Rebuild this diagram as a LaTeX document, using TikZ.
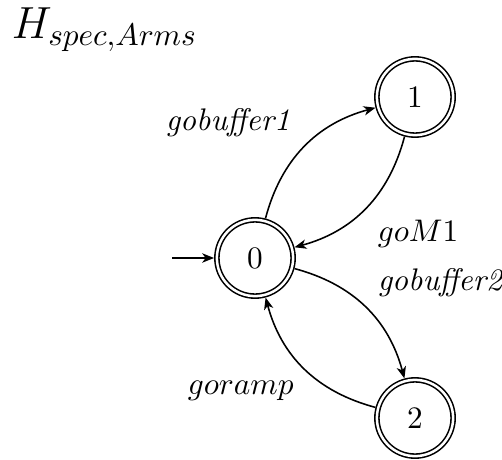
\documentclass[tikz,border=0pt]{standalone}
\usetikzlibrary{arrows.meta}
\begin{document}
\begin{tikzpicture}[x=0.32pt,y=-0.32pt,
  line width=0.5pt,
  state/.style={circle,draw,double,double distance=0.8pt,minimum size=24.4pt,
    inner sep=0pt,outer sep=0.9pt},
  trans/.style={-{Stealth[length=3.8pt,width=3pt,inset=1.1pt]}},
  lbl/.style={anchor=base west,inner sep=0pt}]
\useasboundingbox (0,0) rectangle (502,460);

% title
\node[lbl] (title) at (11,39) {\Large $H_{spec,Arms}$};

% states
\node[state] (s0) at (255,258) {0};
\node[state] (s1) at (415,97) {1};
\node[state] (s2) at (415,418) {2};

% initial arrow
\coordinate (init) at (172,258);
\draw[trans] (init) -- (s0);

% transitions
\draw[trans] (s0) to[bend left=30] (s1);
\draw[trans] (s1) to[bend left=30] (s0);
\draw[trans] (s0) to[bend left=30] (s2);
\draw[trans] (s2) to[bend left=30] (s0);

% transition labels
\node[lbl] (l01) at (165,131) {\textit{gobuffer1}};
\node[lbl] (l10) at (377,241) {$goM1$};
\node[lbl] (l02) at (377,291) {\textit{gobuffer2}};
\node[lbl] (l20) at (187,394) {$goramp$};
\end{tikzpicture}
\end{document}
